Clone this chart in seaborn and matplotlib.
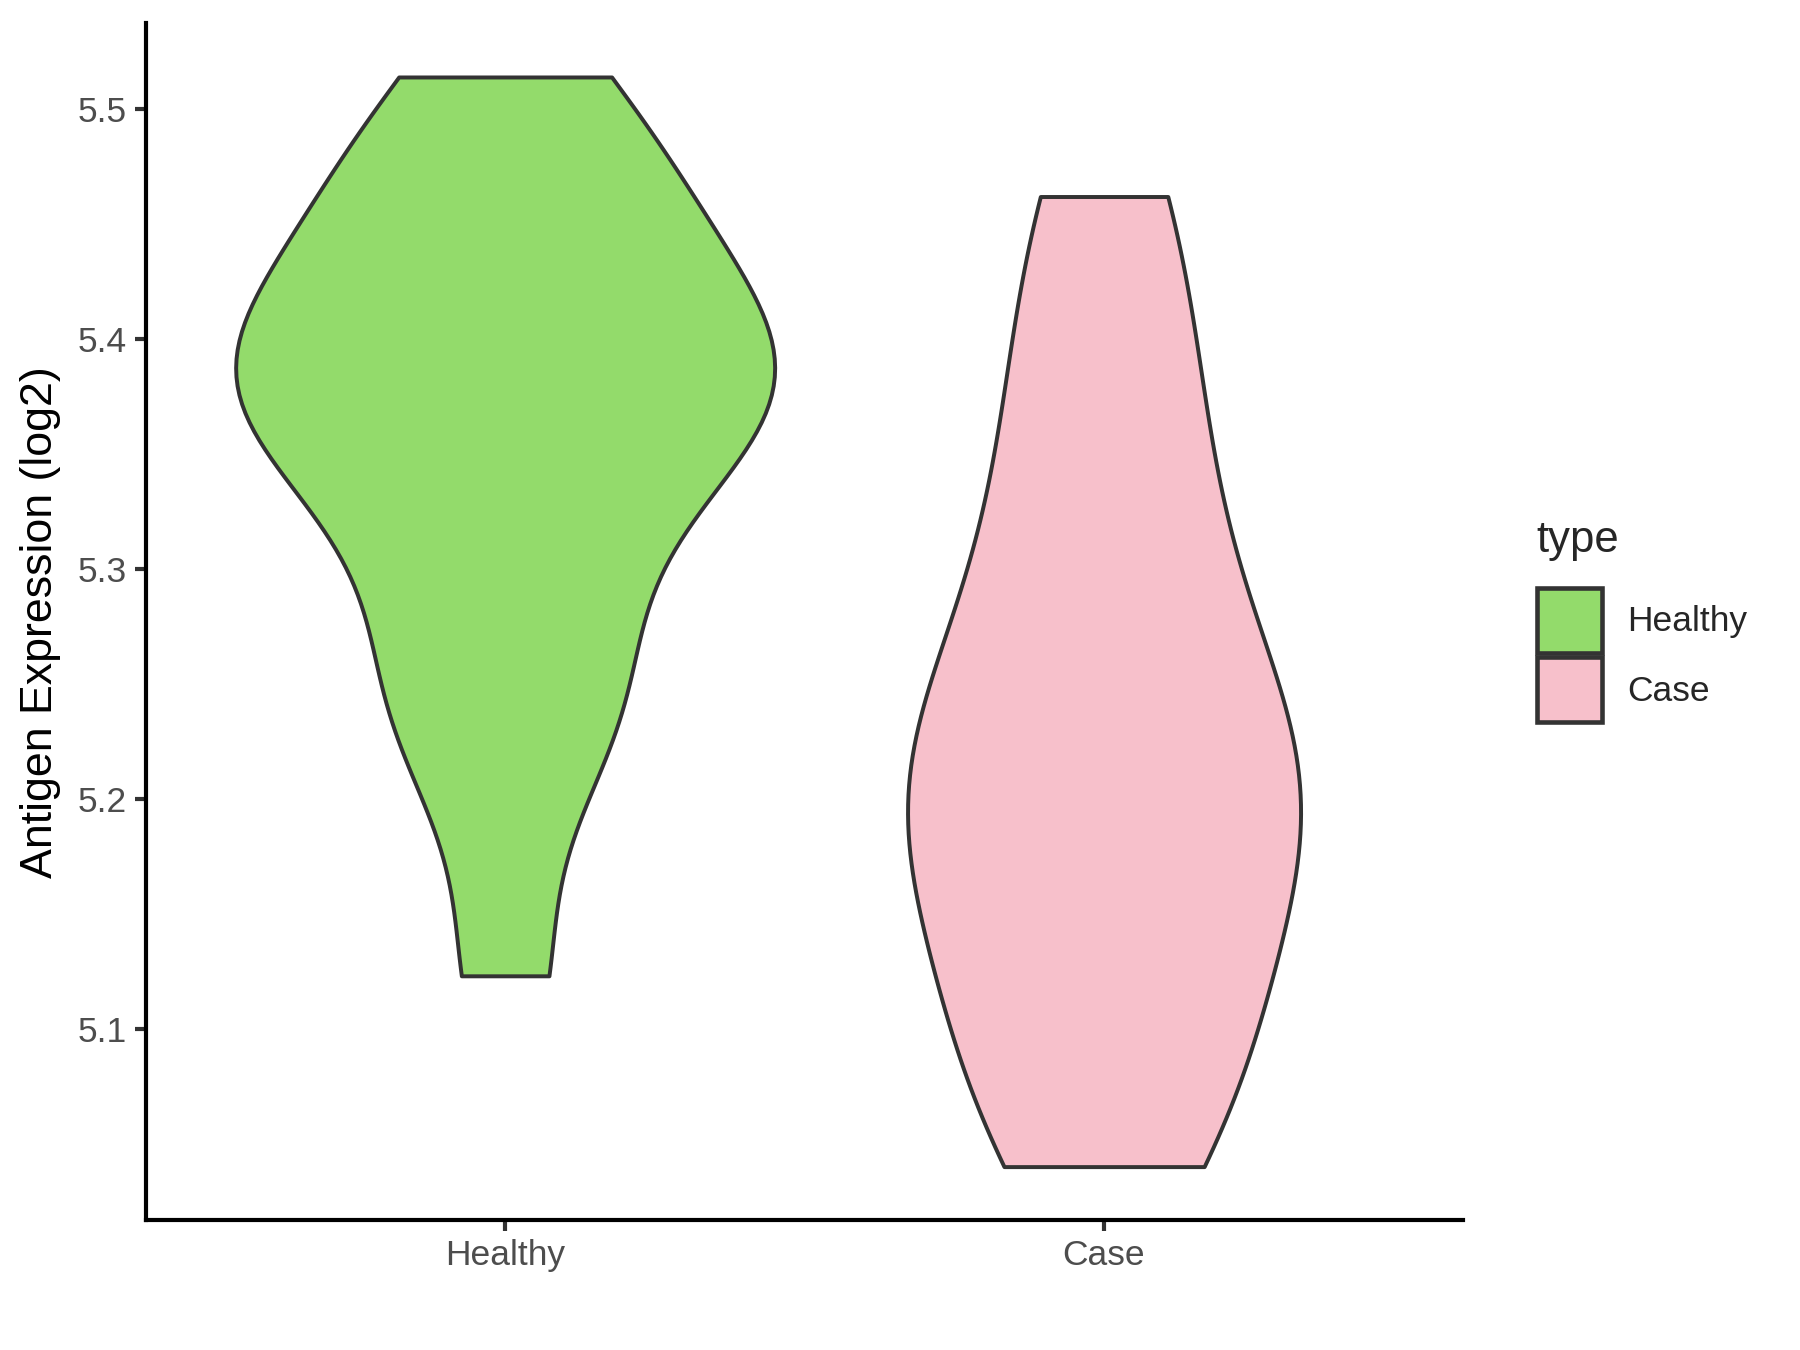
import matplotlib
matplotlib.use("Agg")
import matplotlib.pyplot as plt
from matplotlib.patches import Patch
import seaborn as sns
import pandas as pd

healthy_vals = [5.123, 5.215, 5.24, 5.27, 5.31, 5.34, 5.36, 5.37, 5.38, 5.39, 5.40,
                5.42, 5.44, 5.465, 5.485, 5.514]
case_vals = [5.04, 5.075, 5.11, 5.15, 5.18, 5.20, 5.22, 5.25, 5.29, 5.34, 5.395, 5.462]
groups = ["Healthy", "Case"]
colors = {"Healthy": "#93DB6B", "Case": "#F7C0CB"}

df = pd.DataFrame({
    "type": ["Healthy"] * len(healthy_vals) + ["Case"] * len(case_vals),
    "value": healthy_vals + case_vals,
})

sns.set_style("white")
plt.rcParams["font.family"] = ["Liberation Sans", "DejaVu Sans"]

fig = plt.figure(figsize=(12, 9), dpi=150)
ax = fig.add_axes([0.081, 0.096, 0.732, 0.887])

sns.violinplot(data=df, x="type", y="value", hue="type", order=groups, hue_order=groups,
               palette=colors, cut=0, inner=None, width=0.9, density_norm="area",
               common_norm=True, bw_adjust=0.75, linewidth=1.9, linecolor="#333333",
               saturation=1, legend=False, ax=ax)

ax.set_xlim(-0.6, 1.6)
ax.set_ylim(5.0166, 5.5375)
ax.set_yticks([5.1, 5.2, 5.3, 5.4, 5.5])
ax.set_xlabel("")
ax.set_ylabel("Antigen Expression (log2)", fontsize=21.5, color="black", labelpad=8)
ax.tick_params(axis="both", labelsize=17, labelcolor="#4D4D4D", color="#333333",
               length=5.5, width=2, direction="out", left=True, bottom=True)
for s in ["top", "right"]:
    ax.spines[s].set_visible(False)
for s in ["left", "bottom"]:
    ax.spines[s].set_color("black")
    ax.spines[s].set_linewidth(2)

handles = [Patch(facecolor=colors[g], edgecolor="#333333", linewidth=2.2, label=g) for g in groups]
leg = fig.legend(handles=handles, title="type", loc="center left", bbox_to_anchor=(0.836, 0.54),
                 frameon=False, fontsize=17, title_fontsize=21, handlelength=1.85, handleheight=2.45,
                 handletextpad=0.7, labelspacing=0.12)
leg._legend_box.align = "left"
leg._legend_box.sep = 13

fig.savefig("out.png", dpi=150)
